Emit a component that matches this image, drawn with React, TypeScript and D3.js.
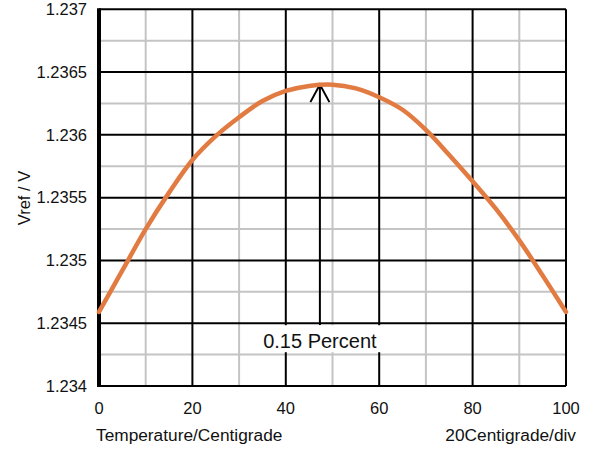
import * as d3 from "d3";

const W = 600;
const H = 450;
const PLOT = { left: 99, right: 566, top: 9.3, bottom: 386 };

// temperature (°C) and measured reference voltage (V)
const temps = [0, 5, 10, 15, 20, 25, 30, 35, 40, 45, 50, 55, 60, 65, 70, 75, 80, 85, 90, 95, 100];
const vref = [
  1.23459, 1.23492, 1.23525, 1.23554, 1.2358, 1.23599, 1.23614, 1.23627, 1.23635, 1.23639, 1.2364,
  1.23637, 1.2363, 1.2362, 1.23604, 1.23584, 1.23563, 1.23541, 1.23516, 1.23488, 1.23459,
];

const xTicks = [0, 20, 40, 60, 80, 100];
const xMinor = [10, 30, 50, 70, 90];
const yTicks = [1.234, 1.2345, 1.235, 1.2355, 1.236, 1.2365, 1.237];
const yMinor = [1.23425, 1.23475, 1.23525, 1.23575, 1.23625, 1.23675];

const peakX = 47.3;
const peakV = 1.2364;
const labelV = 1.2345;

const FONT = "'Liberation Sans', Arial, sans-serif";
const ORANGE = "#e27b42";

export default function App() {
  const x = d3.scaleLinear().domain([0, 100]).range([PLOT.left, PLOT.right]);
  const y = d3.scaleLinear().domain([1.234, 1.237]).range([PLOT.bottom, PLOT.top]);

  const line = d3
    .line<number>()
    .x((_, i) => x(temps[i]))
    .y((d) => y(d))
    .curve(d3.curveCatmullRom);

  const ax = x(peakX);
  const tipY = y(peakV);
  const boxTop = y(labelV) + 2;

  return (
    <svg
      width={W}
      height={H}
      style={{ position: "absolute", left: 0, top: 0, background: "#fff" }}
      fontFamily={FONT}
    >
      {/* minor grid */}
      {xMinor.map((t) => (
        <line key={"xm" + t} x1={x(t)} x2={x(t)} y1={PLOT.top} y2={PLOT.bottom} stroke="#c4c4c4" strokeWidth={2} />
      ))}
      {yMinor.map((t) => (
        <line key={"ym" + t} x1={PLOT.left} x2={PLOT.right} y1={y(t)} y2={y(t)} stroke="#c4c4c4" strokeWidth={2} />
      ))}

      {/* major grid */}
      {xTicks.map((t) => (
        <line key={"xM" + t} x1={x(t)} x2={x(t)} y1={PLOT.top} y2={PLOT.bottom} stroke="#000" strokeWidth={2} />
      ))}
      {yTicks.map((t) => (
        <line key={"yM" + t} x1={PLOT.left} x2={PLOT.right} y1={y(t)} y2={y(t)} stroke="#000" strokeWidth={2} />
      ))}

      {/* thick left axis */}
      <line x1={PLOT.left} x2={PLOT.left} y1={PLOT.top - 1} y2={PLOT.bottom + 1} stroke="#000" strokeWidth={4} />

      {/* annotation arrow */}
      <line x1={ax} x2={ax} y1={tipY} y2={boxTop} stroke="#000" strokeWidth={2} />
      <polyline
        points={`${ax - 9.5},${tipY + 17.5} ${ax},${tipY} ${ax + 9.5},${tipY + 17.5}`}
        fill="none"
        stroke="#000"
        strokeWidth={2}
      />

      {/* label box */}
      <rect x={x(32)} y={boxTop} width={x(61) - x(32)} height={27} fill="#fff" />
      <text x={ax} y={y(labelV) + 24.5} textAnchor="middle" fontSize={20} fill="#111">
        0.15 Percent
      </text>

      {/* curve */}
      <path d={line(vref) ?? ""} fill="none" stroke={ORANGE} strokeWidth={4.5} strokeLinecap="round" />

      {/* y tick labels */}
      {yTicks.map((t) => (
        <text key={"yl" + t} x={87} y={y(t)} dy="0.35em" textAnchor="end" fontSize={16.5} fill="#111">
          {String(+t.toFixed(4))}
        </text>
      ))}

      {/* x tick labels */}
      {xTicks.map((t) => (
        <text key={"xl" + t} x={x(t)} y={414} textAnchor="middle" fontSize={16.5} fill="#111">
          {t}
        </text>
      ))}

      <text x={96} y={441} fontSize={17.3} fill="#111">
        Temperature/Centigrade
      </text>
      <text x={576} y={441} textAnchor="end" fontSize={17.3} fill="#111">
        20Centigrade/div
      </text>
      <text transform="translate(30,198) rotate(-90)" textAnchor="middle" fontSize={16.5} fill="#111">
        Vref / V
      </text>
    </svg>
  );
}
